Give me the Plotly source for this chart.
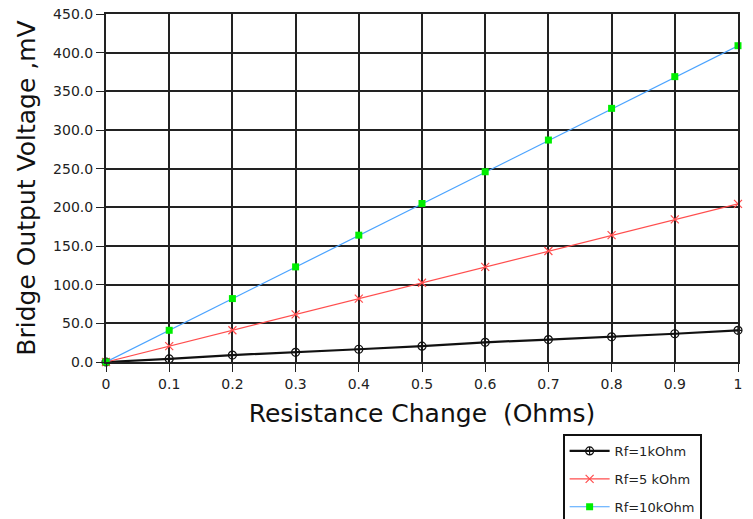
import plotly.graph_objects as go

x_vals = [0, 0.1, 0.2, 0.3, 0.4, 0.5, 0.6, 0.7, 0.8, 0.9, 1.0]
rf1k = [0, 4, 9, 12.5, 16.5, 20.5, 25.5, 29, 32.5, 36.5, 41]
rf5k = [0, 20.5, 41, 61.5, 82, 102.5, 123, 143.5, 164, 184.5, 204.5]
rf10k = [0, 41, 82, 123, 164, 205, 246, 287, 328, 369, 409]
x_ticks = [0, 0.1, 0.2, 0.3, 0.4, 0.5, 0.6, 0.7, 0.8, 0.9, 1]
x_tick_text = ["0", "0.1", "0.2", "0.3", "0.4", "0.5", "0.6", "0.7", "0.8", "0.9", "1"]
y_ticks = [0, 50, 100, 150, 200, 250, 300, 350, 400, 450]

fig = go.Figure()
fig.add_trace(go.Scatter(x=x_vals, y=rf1k, name="Rf=1kOhm", mode="lines+markers",
                         line=dict(color="#111111", width=2.2),
                         marker=dict(symbol="circle-cross-open", size=8, color="#111111", line=dict(width=1.2)),
                         legendgroup="a", cliponaxis=False))
fig.add_trace(go.Scatter(x=x_vals, y=rf5k, name="Rf=5 kOhm", mode="lines+markers",
                         line=dict(color="#ff4d4d", width=1.2),
                         marker=dict(symbol="x-thin", size=8, color="#ff4d4d", line=dict(width=1.2, color="#ff4d4d")),
                         legendgroup="b", cliponaxis=False))
fig.add_trace(go.Scatter(x=x_vals, y=rf10k, name="Rf=10kOhm", mode="lines+markers",
                         line=dict(color="#4aa3ff", width=1.2),
                         marker=dict(symbol="square", size=7, color="#00ee00"),
                         legendgroup="c", cliponaxis=False))

font_family = "DejaVu Sans, Verdana, sans-serif"
fig.update_layout(
    width=753, height=519,
    margin=dict(l=106, r=15, t=14, b=157),
    paper_bgcolor="white", plot_bgcolor="white",
    font=dict(family=font_family, color="#222222"),
    xaxis=dict(range=[0, 1], tickvals=x_ticks, ticktext=x_tick_text,
               showgrid=True, gridcolor="#222222", gridwidth=2,
               showline=True, linecolor="#222222", linewidth=2, mirror=True,
               ticks="outside", ticklen=8, tickcolor="#222222",
               tickfont=dict(size=14, family=font_family),
               zeroline=False, automargin=False,
               title=dict(text="Resistance Change\u00a0\u00a0(Ohms)", font=dict(size=25, family=font_family, color="#111111"), standoff=14)),
    yaxis=dict(range=[0, 450], tickvals=y_ticks, tickformat=".1f",
               showgrid=True, gridcolor="#222222", gridwidth=2,
               showline=True, linecolor="#222222", linewidth=2, mirror=True,
               ticks="outside", ticklen=8, tickcolor="#222222",
               tickfont=dict(size=14, family=font_family),
               zeroline=False, automargin=False,
               title=dict(text="Bridge Output Voltage ,mV", font=dict(size=25, family=font_family, color="#111111"), standoff=10)),
    legend=dict(xref="paper", yref="container", x=0.7225, y=0.1638,
                xanchor="left", yanchor="top",
                bordercolor="#111111", borderwidth=2, bgcolor="white",
                font=dict(size=13, family=font_family), tracegroupgap=8,
                itemwidth=40),
    showlegend=True,
)

fig.write_html("out.html", config={"displayModeBar": False},
               post_script="document.body.style.margin='0';")
